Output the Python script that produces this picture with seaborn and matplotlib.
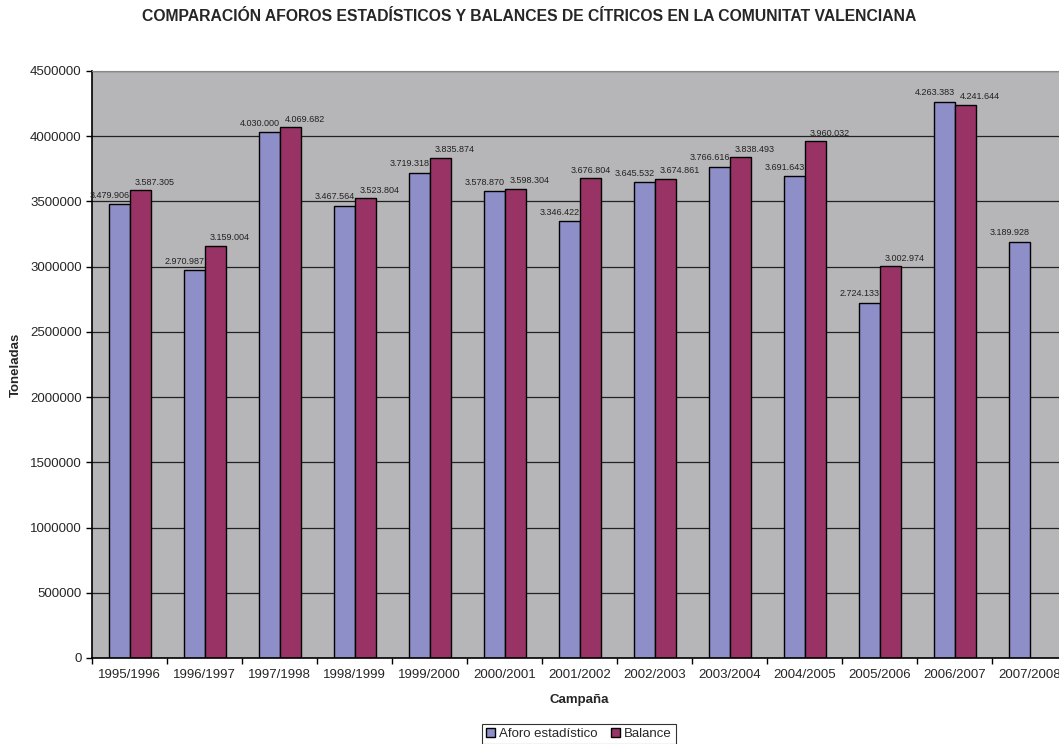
import matplotlib
matplotlib.use('Agg')
import matplotlib.pyplot as plt
import seaborn as sns
import numpy as np
import pandas as pd

campanas = ['1995/1996', '1996/1997', '1997/1998', '1998/1999', '1999/2000', '2000/2001',
            '2001/2002', '2002/2003', '2003/2004', '2004/2005', '2005/2006', '2006/2007', '2007/2008']
aforo = [3479906, 2970987, 4030000, 3467564, 3719318, 3578870,
         3346422, 3645532, 3766616, 3691643, 2724133, 4263383, 3189928]
balance = [3587305, 3159004, 4069682, 3523804, 3835874, 3598304,
           3676804, 3674861, 3838493, 3960032, 3002974, 4241644, np.nan]
series = ['Aforo estadístico', 'Balance']
colores = ['#8E8FC8', '#993366']

df = pd.DataFrame({
    'Campaña': campanas * 2,
    'Serie': [series[0]] * len(campanas) + [series[1]] * len(campanas),
    'Toneladas': aforo + balance,
})

sns.set_style('white')
plt.rcParams['font.family'] = ['Liberation Sans', 'DejaVu Sans']

fig = plt.figure(figsize=(10.59, 7.44), dpi=100)
ax = fig.add_axes([0.0869, 0.1156, 0.9207, 0.789])
ax.set_facecolor('#B6B6B9')

sns.barplot(data=df, x='Campaña', y='Toneladas', hue='Serie', palette=colores,
            width=0.56, edgecolor='black', linewidth=1.0, ax=ax, saturation=1)

# etiquetas de datos: se separan a los lados cuando las dos barras tienen altura parecida
bars_a, bars_b = ax.containers[0], ax.containers[1]
alturas_b = {round(b.get_x() + b.get_width() / 2 - 0.14, 3): b.get_height() for b in bars_b}

def etiqueta(x, h, dx, dy):
    ax.annotate(f"{h:,.0f}".replace(',', '.'), (x, h), xytext=(dx, dy),
                textcoords='offset pixels', ha='center', va='center', fontsize=6.5,
                color='#222222')

for bar in bars_a:
    h = bar.get_height()
    if np.isfinite(h) and h > 0:
        etiqueta(bar.get_x() + bar.get_width() / 2, h, -9, 9)

for bar in bars_b:
    h = bar.get_height()
    if not np.isfinite(h) or h == 0:
        continue
    xc = bar.get_x() + bar.get_width() / 2
    i = int(round(xc - 0.14))
    dx = 1 if h - aforo[i] > 300000 else 15
    etiqueta(xc, h, dx, 8)

ax.set_ylim(0, 4500000)
ax.set_xlim(-0.5, 12.5)
ax.set_yticks(np.arange(0, 4500001, 500000))
ax.yaxis.set_major_formatter(matplotlib.ticker.FuncFormatter(lambda v, p: f"{int(v)}"))
ax.yaxis.grid(True, color='#222222', linewidth=0.9)
ax.set_axisbelow(True)

ax.set_xticks(np.arange(-0.5, 13, 1), minor=True)
ax.tick_params(axis='x', which='major', length=0, labelsize=9.5, pad=8)
ax.tick_params(axis='x', which='minor', length=4, color='black', width=1, direction='out', bottom=True)
ax.tick_params(axis='y', length=4, color='black', width=1, direction='out', labelsize=9.5, left=True)

for s in ['left', 'bottom']:
    ax.spines[s].set_color('black')
    ax.spines[s].set_linewidth(1.2)
ax.spines['top'].set_color('#888888')
ax.spines['right'].set_visible(False)

ax.set_xlabel('Campaña', fontsize=9.5, fontweight='bold', labelpad=9)
ax.set_ylabel('Toneladas', fontsize=9.5, fontweight='bold', labelpad=6)

handles, labels = ax.get_legend_handles_labels()
ax.get_legend().remove()
leg = fig.legend(handles, labels, loc='upper center', bbox_to_anchor=(0.5467, 0.027), ncol=2,
                 fontsize=9.5, frameon=True, fancybox=False, edgecolor='black',
                 handlelength=0.7, handleheight=0.7, handletextpad=0.3, columnspacing=1.0,
                 borderpad=0.3, borderaxespad=0)
leg.get_frame().set_linewidth(0.8)

fig.suptitle('COMPARACIÓN AFOROS ESTADÍSTICOS Y BALANCES DE CÍTRICOS EN LA COMUNITAT VALENCIANA',
             x=0.5, y=0.988, fontsize=11.3, fontweight='bold')

fig.savefig('out.png', dpi=100)
